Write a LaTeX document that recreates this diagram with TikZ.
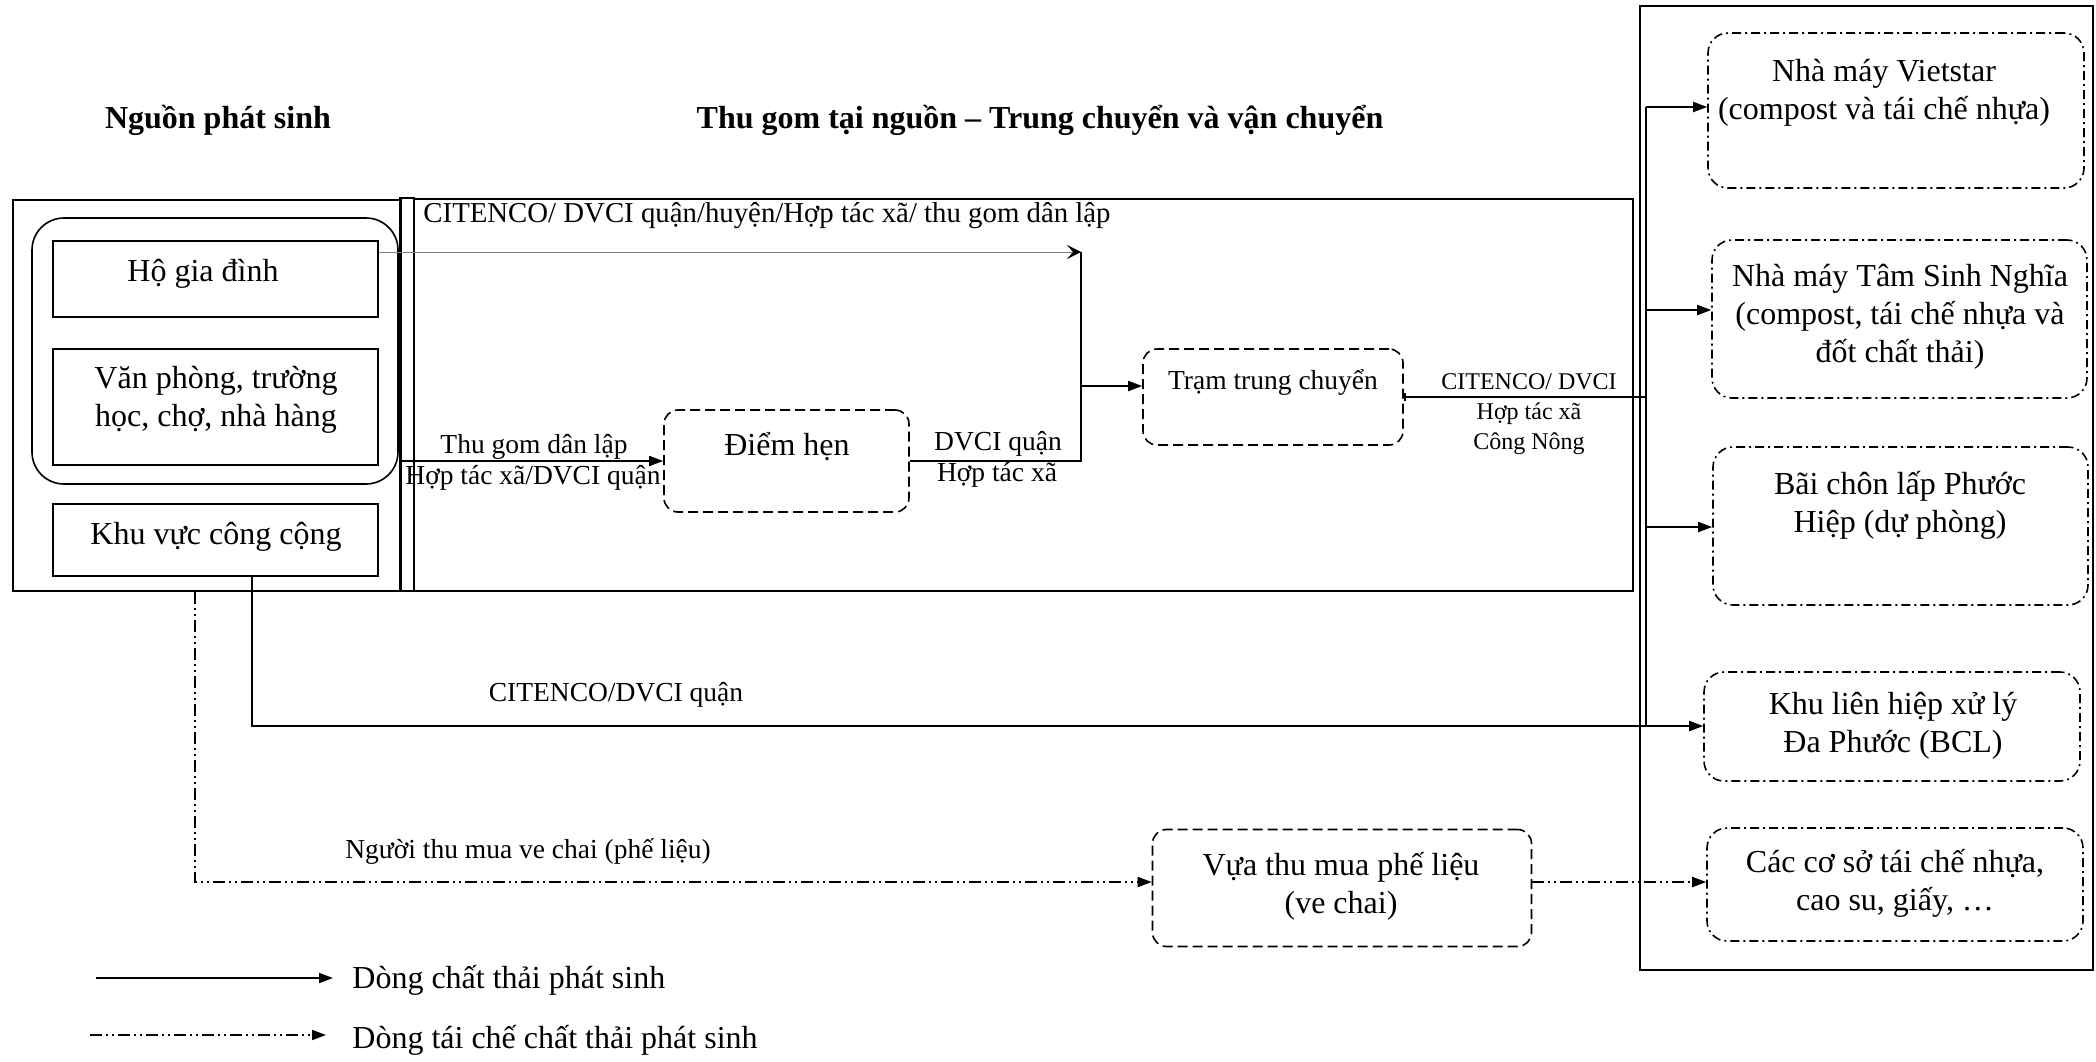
\documentclass[tikz,border=0pt]{standalone}
\usepackage{fontspec}
\setmainfont{Liberation Serif}
\usetikzlibrary{arrows.meta}

\newcommand\fbig{\fontsize{16}{19}\selectfont}
\newcommand\fmid{\fontsize{13.75}{16}\selectfont}
\newcommand\fsml{\fontsize{12}{15}\selectfont}

\tikzset{
  box/.style={draw, line width=0.8pt, inner sep=0pt},
  grpbox/.style={box, rounded corners=16pt},
  dashbox/.style={box, rounded corners=7pt, dash pattern=on 5pt off 2.5pt},
  dotbox/.style={box, rounded corners=10pt, dash pattern=on 4.5pt off 2pt on 1pt off 2pt},
  txt/.style={anchor=base, align=center, inner sep=0pt, font=\fbig},
  lbl/.style={anchor=base, align=center, inner sep=0pt, font=\fmid},
  link/.style={line width=0.9pt},
  flow/.style={link, -{Triangle[length=7pt,width=5pt]}},
  recyc/.style={link, dash pattern=on 6pt off 2pt on 1pt off 2pt on 1pt off 2pt,
    -{Triangle[length=7pt,width=5pt]}},
  thinflow/.style={gray, line width=0.5pt, -{Stealth[length=7pt,width=7pt,inset=3pt,black]}}
}

\begin{document}
\begin{tikzpicture}[x=0.5pt, y=-0.5pt]
\useasboundingbox (0,0) rectangle (2096,1061);

% titles
\node[txt, font=\fbig\bfseries] (ttl-src) at (218,128) {Nguồn phát sinh};
\node[txt, font=\fbig\bfseries] (ttl-mid) at (1040,128) {Thu gom tại nguồn – Trung chuyển và vận chuyển};

% source frames
\node[box, minimum width=194pt, minimum height=195.5pt] (src) at (207,395.5) {};
\node[grpbox, minimum width=183pt, minimum height=133pt] (grp) at (215,351) {};
\node[box, minimum width=162.5pt, minimum height=38pt] (ho) at (215.5,279) {};
\node[box, minimum width=162.5pt, minimum height=58pt] (vp) at (215.5,407) {};
\node[box, minimum width=162.5pt, minimum height=36pt] (kv) at (215.5,540) {};
% (multi-line texts sit on the baseline of their last line)
\node[txt] (ho-t) at (203,281) {Hộ gia đình};
\node[txt] (vp-t) at (216,426) {Văn phòng, trường\\học, chợ, nhà hàng};
\node[txt] (kv-t) at (216,544) {Khu vực công cộng};

% collection frame
\node[box, minimum width=7pt, minimum height=196.5pt] (strip) at (407,394.5) {};
\node[box, minimum width=609.5pt, minimum height=196pt] (mid) at (1023.5,395) {};
\node[dashbox, minimum width=122.5pt, minimum height=51pt] (dh) at (786.5,461) {};
\node[dashbox, minimum width=130pt, minimum height=48pt] (tr) at (1273,397) {};
\node[txt] (dh-t) at (787,455) {Điểm hẹn};
\node[lbl] (tr-t) at (1273,389) {Trạm trung chuyển};

% scrap dealer
\node[dashbox, minimum width=189.5pt, minimum height=58.5pt] (vua) at (1342,888) {};
\node[txt] (vua-t) at (1341,913) {Vựa thu mua phế liệu\\(ve chai)};

% treatment frame
\node[box, minimum width=226.5pt, minimum height=482pt] (rbox) at (1866.5,488) {};
\node[dotbox, minimum width=188pt, minimum height=77.5pt] (vs) at (1896,110.5) {};
\node[dotbox, minimum width=187.5pt, minimum height=79pt] (tsn) at (1899.5,319) {};
\node[dotbox, minimum width=187.5pt, minimum height=79pt] (bcl) at (1900.5,526) {};
\node[dotbox, minimum width=188pt, minimum height=54.5pt] (klh) at (1892,726.5) {};
\node[dotbox, minimum width=188pt, minimum height=56.5pt] (ccs) at (1895,884.5) {};
\node[txt] (vs-t) at (1884,119) {Nhà máy Vietstar\\(compost và tái chế nhựa)};
\node[txt] (tsn-t) at (1900,362) {Nhà máy Tâm Sinh Nghĩa\\(compost, tái chế nhựa và\\đốt chất thải)};
\node[txt] (bcl-t) at (1900,532) {Bãi chôn lấp Phước\\Hiệp (dự phòng)};
\node[txt] (klh-t) at (1893,752) {Khu liên hiệp xử lý\\Đa Phước (BCL)};
\node[txt] (ccs-t) at (1895,910) {Các cơ sở tái chế nhựa,\\cao su, giấy, …};

% junctions
\coordinate (j1) at (1081,252);
\coordinate (j2) at (1081,461);
\coordinate (j3) at (1081,386);
\coordinate (b1) at (1646,107);
\coordinate (b2) at (1646,310);
\coordinate (b3) at (1646,527);
\coordinate (b4) at (1646,726);
\coordinate (k1) at (252,726);
\coordinate (r1) at (195,882);

% flows
\draw[thinflow] (ho.east |- j1) -- (j1);
\draw[flow] (grp.east |- dh) -- (dh);
\draw[link] (dh) -- (j2) -- (j1);
\draw[flow] (j3) -- (tr.west |- j3);
\draw[link, {Bar[width=4pt]}-] (tr) -- (tr.east -| b1);
\draw[link] (b1) -- (b4);
\draw[flow] (b1) -- (vs.west |- b1);
\draw[flow] (b2) -- (tsn.west |- b2);
\draw[flow] (b3) -- (bcl.west |- b3);
\draw[flow] (kv.south -| k1) -- (k1) -- (klh.west |- k1);
\draw[recyc] (src.south -| r1) -- (r1) -- (vua.west |- r1);
\draw[recyc] (vua.east |- r1) -- (ccs.west |- r1);

% flow labels
\node[lbl, font=\fontsize{14.4}{16}\selectfont] (top-l) at (767,222) {CITENCO/ DVCI quận/huyện/Hợp tác xã/ thu gom dân lập};
\node[lbl] (tg-l) at (534,453) {Thu gom dân lập};
\node[lbl] (tg-l2) at (533,484) {Hợp tác xã/DVCI quận};
\node[lbl] (dv-l) at (998,450) {DVCI quận};
\node[lbl] (dv-l2) at (997,481) {Hợp tác xã};
\node[lbl, font=\fsml] (cn-l) at (1529,449) {CITENCO/ DVCI\\Hợp tác xã\\Công Nông};
\node[lbl] (cq-l) at (616,701) {CITENCO/DVCI quận};
\node[lbl] (vc-l) at (528,858) {Người thu mua ve chai (phế liệu)};

% legend
\coordinate (la1) at (96,978);
\coordinate (la2) at (333,978);
\coordinate (lb1) at (90,1035);
\coordinate (lb2) at (326,1035);
\draw[flow] (la1) -- (la2);
\draw[recyc] (lb1) -- (lb2);
\node[txt, anchor=base west] (lg1) at (352,988) {Dòng chất thải phát sinh};
\node[txt, anchor=base west] (lg2) at (352,1048) {Dòng tái chế chất thải phát sinh};
\end{tikzpicture}
\end{document}
